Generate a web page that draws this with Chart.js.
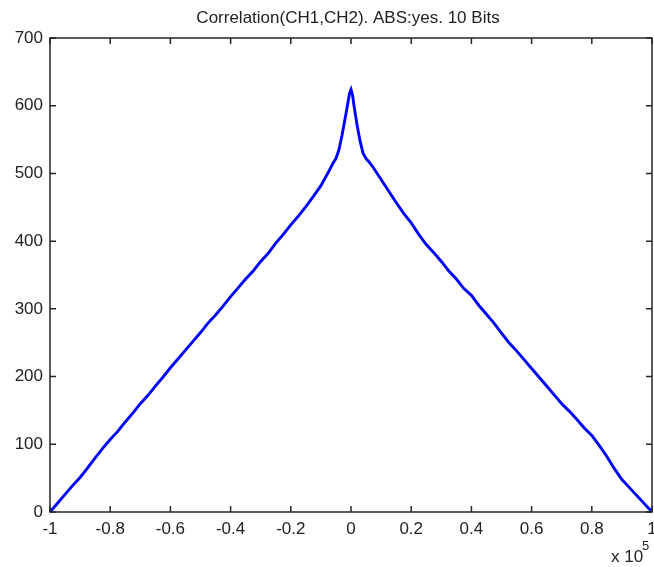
<!DOCTYPE html>
<html>
<head>
<meta charset="utf-8">
<title>Correlation(CH1,CH2)</title>
<script src="https://cdn.jsdelivr.net/npm/chart.js@4/dist/chart.umd.min.js"></script>
<style>
  html, body { margin: 0; padding: 0; background: #fff; }
  canvas { display: block; }
</style>
</head>
<body>
<canvas id="chart-area" width="654" height="567"></canvas>
<script>
// lag (x 10^5) and correlation value
var lags = [
  -1.000, -0.975, -0.950, -0.925, -0.900, -0.875, -0.850, -0.825, -0.800, -0.775,
  -0.750, -0.725, -0.700, -0.675, -0.650, -0.625, -0.600, -0.575, -0.550, -0.525,
  -0.500, -0.475, -0.450, -0.425, -0.400, -0.375, -0.350, -0.325, -0.300, -0.275,
  -0.250, -0.225, -0.200, -0.175, -0.150, -0.125, -0.100, -0.075, -0.060, -0.050,
  -0.040, -0.030, -0.020, -0.010, -0.005, 0.000, 0.005, 0.010, 0.020, 0.030,
  0.040, 0.050, 0.060, 0.075, 0.100, 0.125, 0.150, 0.175, 0.200, 0.225,
  0.250, 0.275, 0.300, 0.325, 0.350, 0.375, 0.400, 0.425, 0.450, 0.475,
  0.500, 0.525, 0.550, 0.575, 0.600, 0.625, 0.650, 0.675, 0.700, 0.725,
  0.750, 0.775, 0.800, 0.825, 0.850, 0.875, 0.900, 0.925, 0.950, 0.975,
  1.000
];
var corr = [
  0, 13, 26, 39, 51, 65, 80, 94, 107, 119,
  133, 146, 160, 172, 186, 199, 213, 226, 239, 252,
  265, 279, 291, 304, 318, 331, 344, 356, 370, 382,
  397, 410, 424, 437, 451, 466, 482, 502, 515, 522,
  535, 556, 580, 605, 618, 624, 616, 600, 572, 548,
  530, 522, 517, 508, 491, 474, 457, 441, 427, 410,
  395, 383, 370, 356, 344, 330, 320, 305, 292, 279,
  264, 250, 238, 225, 212, 199, 186, 173, 160, 149,
  137, 124, 113, 98, 82, 64, 48, 36, 24, 12,
  0
];
var xTickStep = 0.2;
var yTickStep = 100;
var titleText = 'Correlation(CH1,CH2). ABS:yes. 10 Bits';

var FONT = '17px "Liberation Sans", Arial, sans-serif';

// MATLAB style box: inward ticks on all four sides, labels, title, exponent
var matlabAxes = {
  id: 'matlabAxes',
  afterDraw: function(chart) {
    var ctx = chart.ctx, a = chart.chartArea;
    var xs = chart.scales.x, ys = chart.scales.y;
    var tl = 6;
    ctx.save();
    ctx.strokeStyle = '#262626';
    ctx.lineWidth = 1.5;
    ctx.strokeRect(a.left, a.top, a.right - a.left, a.bottom - a.top);
    ctx.beginPath();
    xs.ticks.forEach(function(t) {
      var px = xs.getPixelForValue(t.value);
      ctx.moveTo(px, a.bottom); ctx.lineTo(px, a.bottom - tl);
      ctx.moveTo(px, a.top); ctx.lineTo(px, a.top + tl);
    });
    ys.ticks.forEach(function(t) {
      var py = ys.getPixelForValue(t.value);
      ctx.moveTo(a.left, py); ctx.lineTo(a.left + tl, py);
      ctx.moveTo(a.right, py); ctx.lineTo(a.right - tl, py);
    });
    ctx.stroke();

    ctx.fillStyle = '#222';
    ctx.font = FONT;
    ctx.textAlign = 'center';
    ctx.textBaseline = 'top';
    xs.ticks.forEach(function(t) {
      var px = xs.getPixelForValue(t.value);
      ctx.fillText(String(Number(t.value.toFixed(1))), px, a.bottom + 9);
    });
    ctx.textAlign = 'right';
    ctx.textBaseline = 'middle';
    ys.ticks.forEach(function(t) {
      var py = ys.getPixelForValue(t.value);
      ctx.fillText(String(Math.round(t.value)), a.left - 7, py);
    });

    ctx.textAlign = 'center';
    ctx.fillText(titleText, (a.left + a.right) / 2 - 3, 18);

    ctx.textAlign = 'left';
    ctx.textBaseline = 'alphabetic';
    ctx.fillText('x 10', 611, 562);
    ctx.font = '13px "Liberation Sans", Arial, sans-serif';
    ctx.fillText('5', 642, 550);
    ctx.restore();
  }
};

var points = lags.map(function(v, i) { return { x: v, y: corr[i] }; });

new Chart(document.getElementById('chart-area'), {
  type: 'scatter',
  data: {
    datasets: [{
      data: points,
      showLine: true,
      borderColor: '#0000ff',
      backgroundColor: '#0000ff',
      borderWidth: 2.9,
      pointRadius: 0,
      tension: 0
    }]
  },
  options: {
    responsive: false,
    animation: false,
    layout: { padding: { top: 38, right: 2, left: 0, bottom: 0 } },
    plugins: {
      legend: { display: false },
      tooltip: { enabled: false },
      title: { display: false }
    },
    scales: {
      x: {
        type: 'linear',
        min: -1,
        max: 1,
        ticks: { stepSize: xTickStep, display: false },
        grid: { display: false },
        border: { display: false },
        afterFit: function(s) { s.height = 55; }
      },
      y: {
        min: 0,
        max: 700,
        ticks: { stepSize: yTickStep, display: false },
        grid: { display: false },
        border: { display: false },
        afterFit: function(s) { s.width = 50; }
      }
    }
  },
  plugins: [matlabAxes]
});
</script>
</body>
</html>
